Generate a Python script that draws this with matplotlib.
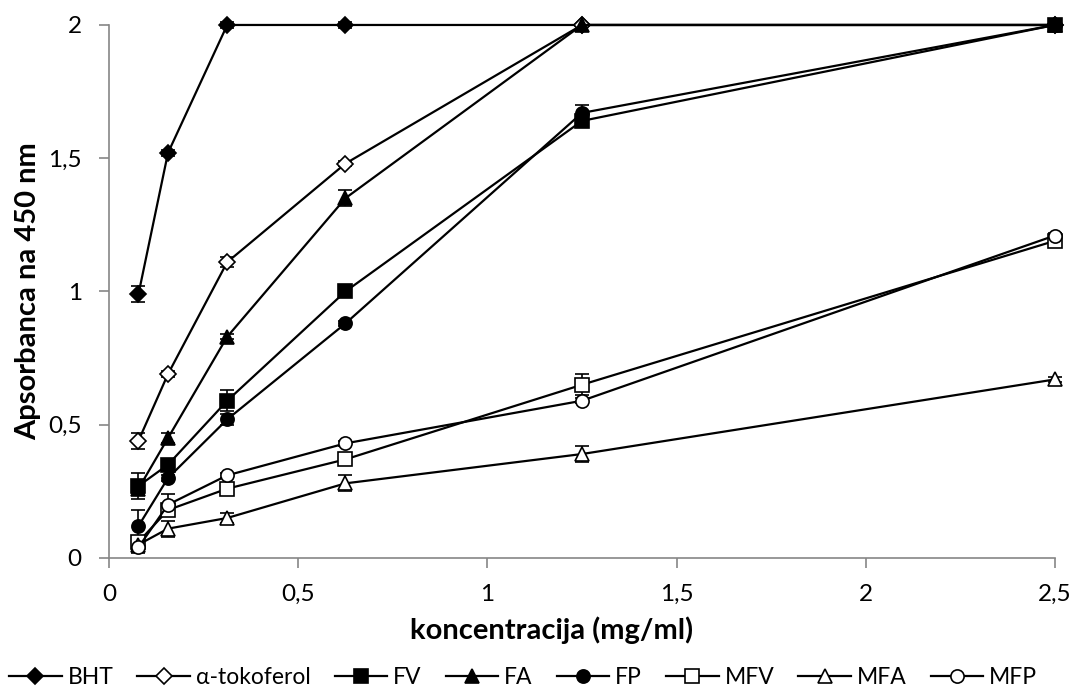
import numpy as np
import matplotlib.pyplot as plt

plt.rcParams['font.family'] = ['Lato', 'DejaVu Sans']

# koncentracija (mg/ml)
conc = [0.078, 0.156, 0.3125, 0.625, 1.25, 2.5]

bht = [0.99, 1.52, 2.0, 2.0, 2.0, 2.0]
tokoferol = [0.44, 0.69, 1.11, 1.48, 2.0, 2.0]
fv = [0.27, 0.35, 0.59, 1.00, 1.64, 2.0]
fa = [0.26, 0.45, 0.83, 1.35, 2.0, 2.0]
fp = [0.12, 0.30, 0.52, 0.88, 1.67, 2.0]
mfv = [0.06, 0.18, 0.26, 0.37, 0.65, 1.19]
mfa = [0.05, 0.11, 0.15, 0.28, 0.39, 0.67]
mfp = [0.04, 0.20, 0.31, 0.43, 0.59, 1.21]

bht_err = [0.03, 0.01, 0.01, 0.01, 0.0, 0.0]
tokoferol_err = [0.03, 0.01, 0.02, 0.01, 0.0, 0.0]
fv_err = [0.05, 0.02, 0.04, 0.01, 0.01, 0.0]
fa_err = [0.02, 0.02, 0.01, 0.03, 0.0, 0.0]
fp_err = [0.06, 0.01, 0.02, 0.01, 0.03, 0.0]
mfv_err = [0.02, 0.02, 0.02, 0.01, 0.04, 0.01]
mfa_err = [0.02, 0.03, 0.02, 0.03, 0.03, 0.01]
mfp_err = [0.02, 0.04, 0.01, 0.01, 0.01, 0.01]

series = [
    ('BHT', bht, bht_err, 'D', 'black'),
    ('α-tokoferol', tokoferol, tokoferol_err, 'D', 'white'),
    ('FV', fv, fv_err, 's', 'black'),
    ('FA', fa, fa_err, '^', 'black'),
    ('FP', fp, fp_err, 'o', 'black'),
    ('MFV', mfv, mfv_err, 's', 'white'),
    ('MFA', mfa, mfa_err, '^', 'white'),
    ('MFP', mfp, mfp_err, 'o', 'white'),
]
sizes = {'D': 8.5, 's': 9.5, '^': 9.5, 'o': 9.5}

fig = plt.figure(figsize=(10.82, 6.88), dpi=100)
ax = fig.add_axes([0.1007, 0.189, 0.8743, 0.7747])

for name, vals, err, mk, fc in series:
    ax.errorbar(conc, vals, yerr=err, color='black', lw=1.6, marker=mk,
                markersize=sizes[mk], markerfacecolor=fc, markeredgecolor='black',
                markeredgewidth=1.2, ecolor='black', elinewidth=1.2,
                capsize=5, capthick=1.2, label=name, zorder=3)

ax.set_xlim(0, 2.5)
ax.set_ylim(0, 2)
ax.set_xticks([0, 0.5, 1, 1.5, 2, 2.5])
ax.set_xticklabels(['0', '0,5', '1', '1,5', '2', '2,5'])
ax.set_yticks([0, 0.5, 1, 1.5, 2])
ax.set_yticklabels(['0', '0,5', '1', '1,5', '2'])

for side in ['top', 'right']:
    ax.spines[side].set_visible(False)
for side in ['left', 'bottom']:
    ax.spines[side].set_color('#868686')
    ax.spines[side].set_linewidth(1.2)
ax.tick_params(axis='both', direction='out', length=7.5, width=1.2,
               color='#868686', labelsize=17.5)
ax.tick_params(axis='x', pad=11)
ax.tick_params(axis='y', pad=12)
for ln in ax.get_lines():
    ln.set_clip_on(False)
for coll in ax.collections:
    coll.set_clip_on(False)

ax.set_xlabel('koncentracija (mg/ml)', fontsize=21, fontweight='bold')
ax.set_ylabel('Apsorbanca na 450 nm', fontsize=21, fontweight='bold')
ax.xaxis.set_label_coords(0.468, -0.11)
ax.yaxis.set_label_coords(-0.072, 0.5)

handles, labels = ax.get_legend_handles_labels()
handles = [h[0] for h in handles]
fig.legend(handles, labels, loc='lower center', ncol=8, frameon=False,
           fontsize=16.5, handlelength=2.3, handletextpad=0.25,
           columnspacing=1.05, bbox_to_anchor=(0.4835, -0.03))

fig.savefig('out.png', dpi=100)
